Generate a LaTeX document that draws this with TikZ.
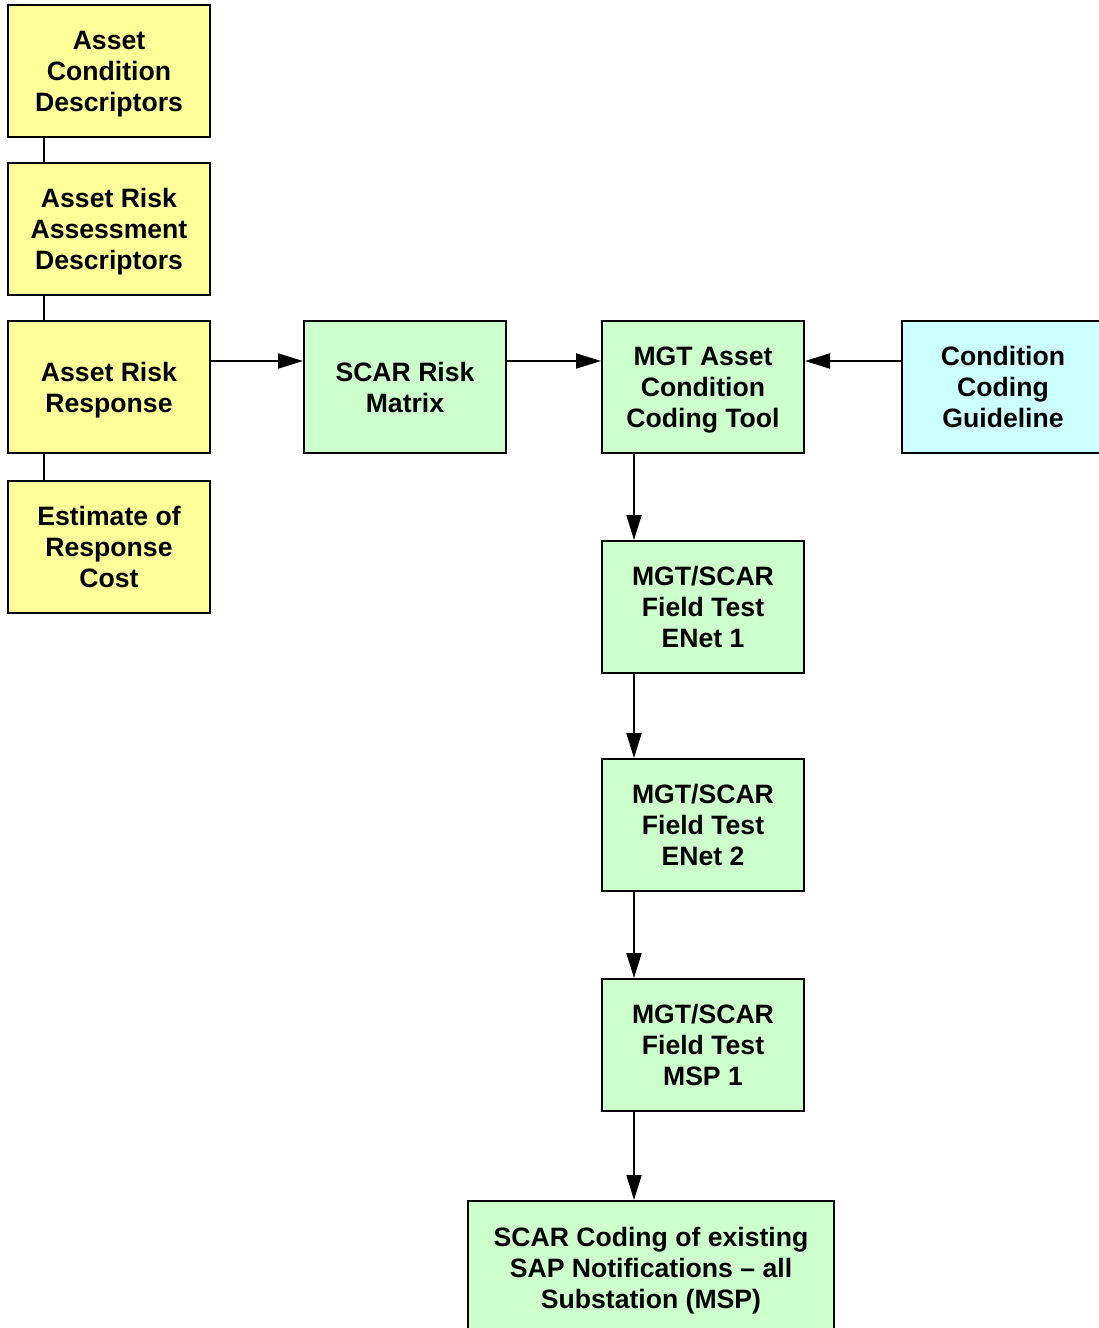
\documentclass[tikz,border=0pt]{standalone}
\usepackage{fontspec}
\setmainfont{Liberation Sans}
\usetikzlibrary{arrows.meta}
\definecolor{boxyellow}{HTML}{FFFF99}
\definecolor{boxgreen}{HTML}{CCFFCC}
\definecolor{boxcyan}{HTML}{CCFFFF}
% centred lines, set a little below the middle of their box
\newcommand\boxtext[1]{\raisebox{-3.5pt}[\height][\depth]{\begin{tabular}{@{}c@{}}#1\end{tabular}}}
\begin{document}
\begin{tikzpicture}[x=1pt,y=-1pt,
  box/.style={draw=black,line width=2pt,minimum width=202pt,minimum height=132pt,
    inner sep=0pt,font=\fontsize{26.6}{31}\selectfont\bfseries},
  ybox/.style={box,fill=boxyellow},
  gbox/.style={box,fill=boxgreen},
  cbox/.style={box,fill=boxcyan},
  link/.style={line width=2pt},
  flow/.style={line width=2pt,-{Triangle[length=25pt,width=15pt]}}]
\useasboundingbox (0,0) rectangle (1099,1328);
\clip (0,0) rectangle (1099,1328);
\fill[white] (0,0) rectangle (1099,1328);

% left column of descriptors
\node[ybox] (acd) at (109,71)  {\boxtext{Asset\\Condition\\Descriptors}};
\node[ybox] (ara) at (109,229) {\boxtext{Asset Risk\\Assessment\\Descriptors}};
\node[ybox] (arr) at (109,387) {\boxtext{Asset Risk\\Response}};
\node[ybox] (erc) at (109,547) {\boxtext{Estimate of\\Response\\Cost}};

% main flow
\node[gbox] (srm) at (405,387) {\boxtext{SCAR Risk\\Matrix}};
\node[gbox] (mgt) at (703,387) {\boxtext{MGT Asset\\Condition\\Coding Tool}};
\node[cbox] (ccg) at (1003,387) {\boxtext{Condition\\Coding\\Guideline}};
\node[gbox] (ft1) at (703,607) {\boxtext{MGT/SCAR\\Field Test\\ENet 1}};
\node[gbox] (ft2) at (703,825) {\boxtext{MGT/SCAR\\Field Test\\ENet 2}};
\node[gbox] (ft3) at (703,1045) {\boxtext{MGT/SCAR\\Field Test\\MSP 1}};
\node[gbox,minimum width=366pt,minimum height=134pt] (sap) at (651,1268)
  {\boxtext{SCAR Coding of existing\\SAP Notifications -- all\\Substation (MSP)}};

% plain links between descriptor boxes
\draw[link] ([xshift=-65pt]acd.south) -- ([xshift=-65pt]ara.north);
\draw[link] ([xshift=-65pt]ara.south) -- ([xshift=-65pt]arr.north);
\draw[link] ([xshift=-65pt]arr.south) -- ([xshift=-65pt]erc.north);

% horizontal arrows
\draw[flow] ([yshift=26pt]arr.east) -- ([yshift=26pt]srm.west);
\draw[flow] ([yshift=26pt]srm.east) -- ([yshift=26pt]mgt.west);
\draw[flow] ([yshift=26pt]ccg.west) -- ([yshift=26pt]mgt.east);

% vertical arrows
\draw[flow] ([xshift=-69pt]mgt.south) -- ([xshift=-69pt]ft1.north);
\draw[flow] ([xshift=-69pt]ft1.south) -- ([xshift=-69pt]ft2.north);
\draw[flow] ([xshift=-69pt]ft2.south) -- ([xshift=-69pt]ft3.north);
\draw[flow] ([xshift=-69pt]ft3.south) -- ([xshift=-69pt]ft3.south |- sap.north);
\end{tikzpicture}
\end{document}
